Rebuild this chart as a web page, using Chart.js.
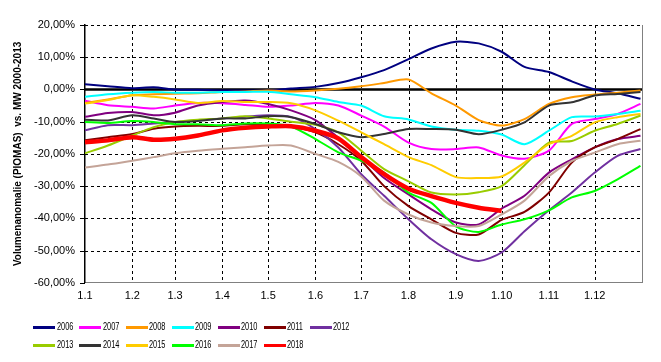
<!DOCTYPE html>
<html>
<head>
<meta charset="utf-8">
<script src="https://cdn.jsdelivr.net/npm/chart.js@4.4.1/dist/chart.umd.min.js"></script>
<style>
  html, body { margin: 0; padding: 0; background: #fff; }
  #wrap { position: relative; width: 661px; height: 362px; }
  #legend { position: absolute; left: 0; top: 0; width: 661px; height: 362px; pointer-events: none;
            font-family: "Liberation Sans", Arial, sans-serif; font-size: 10px; color: #000; }
  .item { position: absolute; height: 12px; width: 46px; }
  .item .ln { position: absolute; left: 0; top: 5px; width: 22px; height: 3px; }
  .item .tx { position: absolute; left: 23.5px; top: 0; line-height: 12px; transform: scaleX(0.74); transform-origin: left center; }
</style>
</head>
<body>
<div id="wrap">
  <canvas id="chart" width="661" height="362"></canvas>
  <div id="legend"></div>
</div>
<script>
// day of year for each reading
const days = [0, 15, 31, 45, 59, 74, 90, 105, 120, 135, 151, 166, 181, 196, 212, 227, 243, 258, 273, 288, 304, 319, 334, 349, 364]

const monthStarts = [0, 31, 59, 90, 120, 151, 181, 212, 243, 273, 304, 334]
const monthLabels = ['1.1', '1.2', '1.3', '1.4', '1.5', '1.6', '1.7', '1.8', '1.9', '1.10', '1.11', '1.12']
const yTicks = [20, 10, 0, -10, -20, -30, -40, -50, -60]

const years = ['2006', '2007', '2008', '2009', '2010', '2011', '2012', '2013', '2014', '2015', '2016', '2017', '2018']

const v2006 = [1.6, 1.0, 0.4, 0.7, 0, -0.1, -0.3, -0.3, -0.3, 0.3, 0.8, 2, 3.8, 6, 9.4, 12.7, 14.8, 14.3, 11.7, 7, 5.4, 2.5, 0, -1.2, -2.9]
const v2007 = [-3.5, -4.9, -5.4, -5.9, -5, -4.2, -4.3, -4.8, -5.4, -5, -4.2, -5, -8.1, -11.5, -16.5, -18.5, -18.5, -18, -20.5, -21.5, -19, -10.7, -9.2, -7.6, -4.5]
const v2008 = [-4.2, -3.1, -1.8, -1.5, -1.3, -1.2, -0.8, -0.6, -0.3, -0.6, -0.3, 0.2, 1.0, 2, 3.1, -1.2, -5, -9.5, -11.2, -9.2, -4.5, -2.4, -1.6, -1, -0.3]
const v2009 = [-2.3, -1.5, -1, -0.8, -1, -1, -0.8, -0.8, -0.7, -1.5, -2.4, -3.9, -5, -8.3, -9.3, -11.5, -12.5, -12.8, -14, -17, -12.8, -8.6, -8.4, -7.6, -6.6]
const v2010 = [-8.5, -7.3, -7, -8, -7.2, -5, -3.9, -3.4, -4.5, -6.5, -9.5, -15, -21, -27.5, -32.6, -37.2, -41.3, -41.9, -37, -33, -25.8, -21.7, -18, -15.4, -14.4]
const v2011 = [-15.8, -14.8, -13.8, -12.2, -11.5, -11.3, -11.3, -10.8, -11, -11.5, -13.3, -17, -22.1, -30, -36.2, -40.3, -44.5, -45, -40.5, -38, -32, -22.7, -18, -15.4, -12.3]
const v2012 = [-12.7, -11.1, -11.1, -10.6, -10.1, -9.6, -9, -8.5, -8, -8.5, -12.3, -18, -26.3, -33, -40.3, -46.5, -51.1, -53.2, -50.6, -44, -37.5, -32, -25.8, -20.6, -18.5]
const v2013 = [-19.8, -17.4, -14.3, -11.7, -10.1, -9.4, -9, -8.3, -9, -10, -11, -13.3, -19, -24.7, -28.5, -32, -32.6, -31.9, -30, -23.5, -16.5, -16, -12.8, -10.7, -8.1]
const v2014 = [-9.4, -9.6, -8, -9, -10.1, -9.8, -9, -9, -8.3, -8.6, -10.7, -13.3, -14.8, -13.8, -12.3, -12.3, -12.5, -13.9, -12.5, -10.2, -5, -4, -1.9, -1.4, -0.8]
const v2015 = [-4.4, -3.3, -1.8, -2.3, -3.1, -4.2, -3.6, -3.9, -3.9, -4.3, -6.5, -9.7, -13.3, -17, -21, -23.5, -27.2, -27.5, -27, -22.7, -17, -14.4, -10.2, -8.6, -7.6]
const v2016 = [-10.1, -10.4, -9.8, -10.1, -10.8, -10.8, -11.1, -10.6, -10.6, -11.5, -15.4, -19.5, -22.1, -25.8, -32, -35.2, -42.5, -44.2, -41.9, -40.3, -37.5, -33.5, -31.5, -27.9, -23.7]
const v2017 = [-24.2, -23.3, -22.1, -21, -19.8, -19, -18.4, -17.9, -17.4, -17.4, -20, -22.5, -27, -34.5, -38.8, -41.3, -42.4, -42.4, -38.8, -34.5, -26.9, -22.2, -19.6, -17, -15.9]
const v2018 = [-16.4, -15.8, -14.8, -15.6, -15.3, -14.3, -12.7, -11.9, -11.5, -11.4, -12.8, -15.2, -21, -26.3, -30.8, -33.1, -35.2, -36.7, -37.7]

const values = [v2006, v2007, v2008, v2009, v2010, v2011, v2012, v2013, v2014, v2015, v2016, v2017, v2018]
const colors = ['#000080', '#ff00ff', '#ff9900', '#00ffff', '#800080', '#800000', '#7030a0',
                '#99cc00', '#333333', '#ffcc00', '#00ff00', '#c4a498', '#ff0000']

const datasets = years.map((y, i) => ({
    label: y,
    data: values[i].map((v, j) => ({x: days[j], y: v})),
    borderColor: colors[i],
    backgroundColor: colors[i],
    borderWidth: y == '2018' ? 4.5 : 2,
    pointRadius: 0,
    tension: 0.25,
    fill: false,
    order: years.length - i
}))

const font = {family: '"Liberation Sans", Arial, sans-serif', size: 11}

// dashed grid like excel, thick zero line, tick marks on the value axis
const gridLines = {
    id: 'gridLines',
    beforeDatasetsDraw(chart) {
        const {ctx, chartArea: a, scales: {x, y}} = chart
        const line = (x1, y1, x2, y2) => { ctx.beginPath(); ctx.moveTo(x1, y1); ctx.lineTo(x2, y2); ctx.stroke() }
        ctx.save()
        ctx.strokeStyle = '#000'
        ctx.lineWidth = 1
        ctx.setLineDash([3, 3])
        yTicks.forEach(v => {
            if (v == 0 || v == -60) return
            const py = Math.round(y.getPixelForValue(v)) + 0.5
            line(a.left, py, a.right, py)
        })
        monthStarts.forEach(d => {
            if (d == 0) return
            const px = Math.round(x.getPixelForValue(d)) + 0.5
            line(px, a.top, px, a.bottom)
        })
        ctx.setLineDash([])
        yTicks.forEach(v => {
            const py = Math.round(y.getPixelForValue(v)) + 0.5
            line(a.left - 5, py, a.left, py)
        })
        ctx.lineWidth = 2.5
        const y0 = y.getPixelForValue(0)
        line(a.left, y0, a.right, y0)
        ctx.restore()
    }
}

new Chart('chart', {
    type: 'line',
    data: {datasets},
    plugins: [gridLines],
    options: {
        responsive: false,
        animation: false,
        devicePixelRatio: 1,
        layout: {padding: {left: 12, right: 19, top: 25, bottom: 52}},
        plugins: {legend: {display: false}, tooltip: {enabled: false}},
        scales: {
            x: {
                type: 'linear',
                min: 0,
                max: 365,
                afterBuildTicks: s => { s.ticks = monthStarts.map(v => ({value: v})) },
                ticks: {
                    autoSkip: false, maxRotation: 0, padding: 7, color: '#000', font,
                    callback: v => monthLabels[monthStarts.indexOf(v)]
                },
                grid: {display: false, drawTicks: false},
                border: {display: true, color: '#808080', width: 1}
            },
            y: {
                min: -60,
                max: 20,
                afterBuildTicks: s => { s.ticks = yTicks.map(v => ({value: v})) },
                afterFit: s => { s.width = 73 },
                ticks: {
                    padding: 10, color: '#000', font,
                    callback: v => v.toFixed(2).replace('.', ',') + '%'
                },
                grid: {display: false, drawTicks: false},
                border: {display: true, color: '#000', width: 1.5},
                title: {
                    display: true,
                    text: 'Volumenanomalie (PIOMAS)  vs. MW 2000-2013',
                    color: '#000',
                    font: {family: '"Liberation Sans", Arial, sans-serif', size: 10, weight: 'bold'},
                    padding: {top: 0, bottom: 10}
                }
            },
            y2: {
                position: 'right',
                min: -60,
                max: 20,
                ticks: {display: false},
                grid: {display: false, drawTicks: false},
                border: {display: true, color: '#808080', width: 1}
            }
        }
    }
})

// legend, two rows like the original
const legend = document.querySelector('#legend')
years.forEach((y, i) => {
    const row = i < 7 ? 0 : 1
    const col = i < 7 ? i : i - 7
    const item = `<div class="item" style="left:${33.3 + col * 46.1}px;top:${321 + row * 18}px">
        <span class="ln" style="background:${colors[i]}"></span><span class="tx">${y}</span></div>`
    legend.insertAdjacentHTML('beforeend', item)
})
</script>
</body>
</html>
